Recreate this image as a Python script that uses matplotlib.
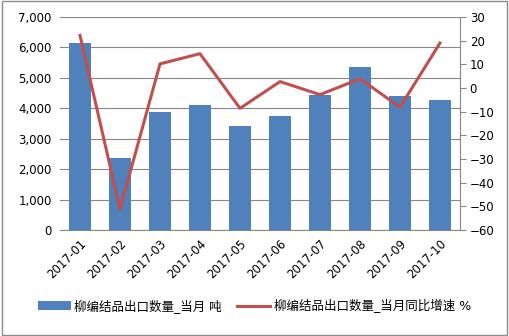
import numpy as np
import matplotlib.pyplot as plt
from matplotlib.patches import Rectangle

plt.rcParams['font.family'] = ['DejaVu Sans', 'Noto Sans CJK SC']

months = ["2017-01", "2017-02", "2017-03", "2017-04", "2017-05",
          "2017-06", "2017-07", "2017-08", "2017-09", "2017-10"]
qty = [6155, 2376, 3878, 4108, 3418, 3746, 4436, 5356, 4403, 4272]
growth = [22.2, -51.2, 10.2, 14.5, -8.6, 2.7, -2.8, 3.9, -8.1, 19.0]

bar_label = "柳编结品出口数量_当月 吨"
line_label = "柳编结品出口数量_当月同比增速 %"

fig = plt.figure(figsize=(5.09, 3.36), dpi=100)
ax = fig.add_axes([60/509, 1-230/336, 400/509, 213/336])
ax2 = ax.twinx()

x = np.arange(len(months))
bars = ax.bar(x, qty, width=0.55, color="#4F81BD", zorder=2, label=bar_label)
ln, = ax2.plot(x, growth, color="#C0504D", lw=2.2, zorder=3, label=line_label)

ax.set_xlim(-0.5, len(months) - 0.5)
ax.set_ylim(0, 7000)
ax.set_yticks(np.arange(0, 7001, 1000))
ax.set_yticklabels([f"{v:,}" for v in range(0, 7001, 1000)])
ax2.set_ylim(-60, 30)
ax2.set_yticks(np.arange(-60, 31, 10))

ax.grid(axis="y", color="#868686", lw=0.8, zorder=0)
ax.set_axisbelow(True)
ax.set_xticks(x)
ax.set_xticklabels(months, rotation=45, ha="right", rotation_mode="anchor")

for a in (ax, ax2):
    for s in ("top", "left"):
        a.spines[s].set_visible(False)
    a.spines["bottom"].set_color("#868686")
    a.spines["right"].set_color("#868686")
ax.spines["right"].set_visible(False)
ax2.spines["bottom"].set_visible(False)

ax.tick_params(axis="x", length=0, labelsize=8.5, pad=5)
ax.tick_params(axis="y", length=0, labelsize=8.5, pad=6)
ax2.tick_params(axis="y", length=4, color="#868686", labelsize=8.5, pad=3)

fig.legend([bars, ln], [bar_label, line_label], loc="lower center",
           bbox_to_anchor=(0.5, 0.035), ncol=2, frameon=False, fontsize=9,
           handlelength=2.6, columnspacing=1.2, handletextpad=0.3)

fig.patches.append(Rectangle((0.004, 0.004), 0.992, 0.992, transform=fig.transFigure,
                             fill=False, edgecolor="#8c8c8c", lw=1))

fig.savefig("out.png", dpi=100)
